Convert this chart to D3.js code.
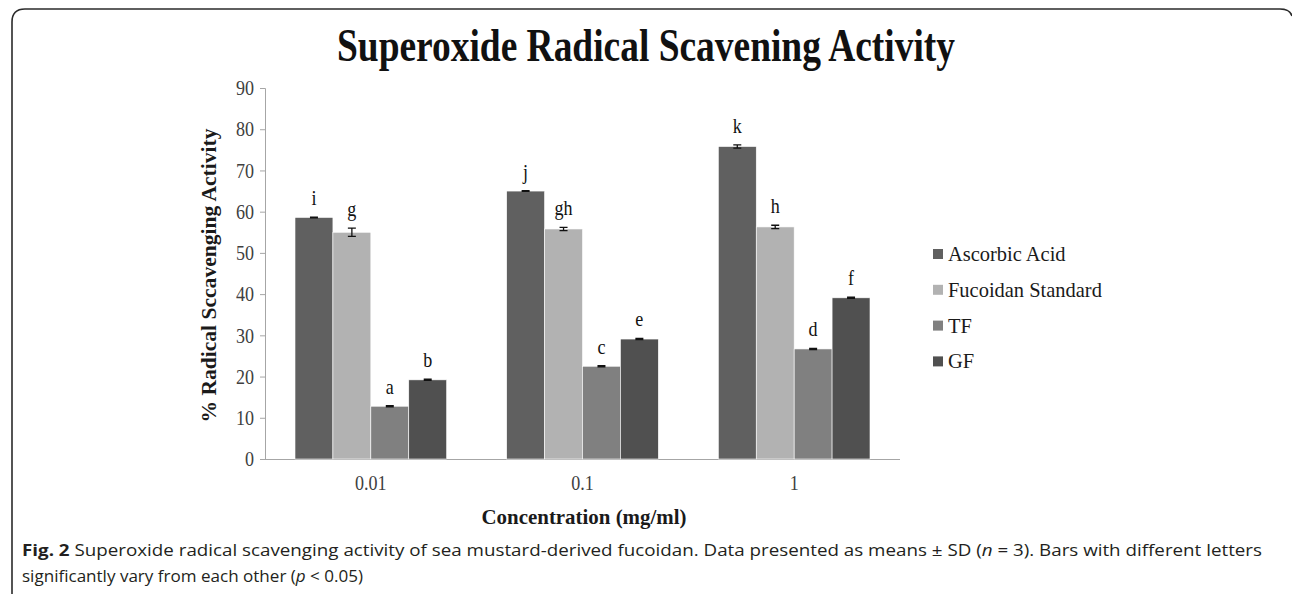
<!DOCTYPE html>
<html>
<head>
<meta charset="utf-8">
<script src="https://cdn.jsdelivr.net/npm/d3@7"></script>
<style>
  body { margin: 0; background: #fff; }
  svg { display: block; }
</style>
</head>
<body>
<div id="chart"></div>
<script>
// data
const concentrations = ["0.01", "0.1", "1"];
const seriesNames = ["Ascorbic Acid", "Fucoidan Standard", "TF", "GF"];
const seriesColors = ["#606060", "#b2b2b2", "#808080", "#505050"];
const ascorbicAcid = [58.6, 65.0, 75.8];
const fucoidanStd = [55.0, 55.8, 56.3];
const tf = [12.8, 22.5, 26.7];
const gf = [19.2, 29.1, 39.1];
const ascorbicSD = [0.1, 0.1, 0.4];
const fucoidanSD = [1.0, 0.4, 0.4];
const tfSD = [0.15, 0.15, 0.15];
const gfSD = [0.15, 0.15, 0.15];
const letters = [["i", "j", "k"], ["g", "gh", "h"], ["a", "c", "d"], ["b", "e", "f"]];
const yTicks = [0, 10, 20, 30, 40, 50, 60, 70, 80, 90];

const values = [ascorbicAcid, fucoidanStd, tf, gf];
const sds = [ascorbicSD, fucoidanSD, tfSD, gfSD];

const rows = [];
concentrations.forEach((c, ci) => {
  seriesNames.forEach((s, si) => {
    rows.push({ conc: c, series: s, value: values[si][ci], sd: sds[si][ci], letter: letters[si][ci], color: seriesColors[si] });
  });
});

// the original figure is squeezed sideways, so text is narrowed a bit
function squeeze(sel, k) {
  sel.each(function() {
    const t = d3.select(this);
    const x = +t.attr('x') || 0;
    t.attr('x', x / k).attr('transform', `scale(${k},1)`);
  });
}

const W = 1292, H = 594;
const svg = d3.select('#chart').append('svg')
    .attr('width', W)
    .attr('height', H);

// frame (open at the bottom)
svg.append('path')
    .attr('d', `M12,${H + 5} L12,22 Q12,9 25,9 L1280,9 Q1290,9 1292,16`)
    .attr('fill', 'none')
    .attr('stroke', '#2b2b2b')
    .attr('stroke-width', 1.6);

const serif = '"Liberation Serif", "Times New Roman", serif';

svg.append('text')
    .attr('x', 646)
    .attr('y', 61)
    .attr('text-anchor', 'middle')
    .attr('font-family', serif)
    .attr('font-weight', 'bold')
    .attr('font-size', 47)
    .attr('textLength', 618)
    .attr('lengthAdjust', 'spacingAndGlyphs')
    .attr('fill', '#111')
    .text('Superoxide Radical Scavening Activity');

const plotLeft = 265, plotRight = 900, plotTop = 88, plotBottom = 459;

const x0 = d3.scaleBand()
    .domain(concentrations)
    .range([plotLeft, plotRight])
    .padding(0);

const gap = 30;
const x1 = d3.scaleBand()
    .domain(seriesNames)
    .range([gap, x0.bandwidth() - gap])
    .padding(0);

const y = d3.scaleLinear()
    .domain([0, 90])
    .range([plotBottom, plotTop]);

// y axis
const yAxis = svg.append('g')
    .attr('transform', `translate(${plotLeft},0)`)
    .call(d3.axisLeft(y).tickValues(yTicks).tickSize(5).tickPadding(6));
yAxis.selectAll('path, line').attr('stroke', '#a6a6a6');
yAxis.selectAll('text')
    .attr('font-family', serif)
    .attr('font-size', 21)
    .attr('fill', '#404040')
    .call(squeeze, 0.86);

// x axis
const xAxis = svg.append('g')
    .attr('transform', `translate(0,${plotBottom})`)
    .call(d3.axisBottom(x0).tickSize(0).tickPadding(16));
xAxis.select('path').attr('stroke', '#a6a6a6').attr('d', `M${plotLeft},0.5H${plotRight}`);
xAxis.selectAll('text')
    .attr('font-family', serif)
    .attr('font-size', 21)
    .attr('fill', '#404040')
    .call(squeeze, 0.86);

// bars
const bars = svg.append('g').selectAll('g')
    .data(rows)
    .join('g')
    .attr('transform', d => `translate(${x0(d.conc) + x1(d.series)},0)`);

bars.append('rect')
    .attr('x', 0)
    .attr('y', d => y(d.value))
    .attr('width', x1.bandwidth())
    .attr('height', d => plotBottom - y(d.value))
    .attr('fill', d => d.color)
    .attr('stroke', '#fff')
    .attr('stroke-width', 0.6);

// error bars
const bw = x1.bandwidth();
bars.append('path')
    .attr('d', d => {
      const cx = bw / 2, y1 = y(d.value + d.sd), y2 = y(d.value - d.sd);
      return `M${cx - 4},${y1}H${cx + 4}M${cx},${y1}V${y2}M${cx - 4},${y2}H${cx + 4}`;
    })
    .attr('fill', 'none')
    .attr('stroke', '#111')
    .attr('stroke-width', 1.3);

// significance letters
bars.append('text')
    .attr('x', bw / 2)
    .attr('y', d => y(d.value + d.sd) - 12)
    .attr('text-anchor', 'middle')
    .attr('font-family', serif)
    .attr('font-size', 21)
    .attr('fill', '#111')
    .text(d => d.letter)
    .call(squeeze, 0.86);

// axis titles
svg.append('text')
    .attr('transform', `translate(216,${(plotTop + plotBottom) / 2 + 2}) rotate(-90)`)
    .attr('text-anchor', 'middle')
    .attr('font-family', serif)
    .attr('font-weight', 'bold')
    .attr('font-size', 22)
    .attr('textLength', 294)
    .attr('lengthAdjust', 'spacingAndGlyphs')
    .attr('fill', '#1a1a1a')
    .text('% Radical Sccavenging Activity');

svg.append('text')
    .attr('x', 584)
    .attr('y', 524)
    .attr('text-anchor', 'middle')
    .attr('font-family', serif)
    .attr('font-weight', 'bold')
    .attr('font-size', 22)
    .attr('textLength', 205)
    .attr('lengthAdjust', 'spacingAndGlyphs')
    .attr('fill', '#1a1a1a')
    .text('Concentration (mg/ml)');

// legend
const legend = svg.append('g')
    .attr('transform', 'translate(933,249)')
    .selectAll('g')
    .data(seriesNames)
    .join('g')
    .attr('transform', (d, i) => `translate(0,${i * 35.8})`);

legend.append('rect')
    .attr('width', 10)
    .attr('height', 10)
    .attr('fill', (d, i) => seriesColors[i]);

legend.append('text')
    .attr('x', 15)
    .attr('y', 12)
    .attr('font-family', serif)
    .attr('font-size', 22)
    .attr('fill', '#1a1a1a')
    .text(d => d)
    .call(squeeze, 0.93);

// caption
const sans = '"Open Sans", "Noto Sans", sans-serif';
const cap1 = svg.append('text')
    .attr('x', 22)
    .attr('y', 556)
    .attr('font-family', sans)
    .attr('font-size', 16.5)
    .attr('fill', '#231f20')
    .attr('textLength', 1240)
    .attr('lengthAdjust', 'spacingAndGlyphs');
cap1.append('tspan').attr('font-weight', 'bold').text('Fig. 2');
cap1.append('tspan').text(' Superoxide radical scavenging activity of sea mustard-derived fucoidan. Data presented as means ± SD (');
cap1.append('tspan').attr('font-style', 'italic').text('n');
cap1.append('tspan').text(' = 3). Bars with different letters');

const cap2 = svg.append('text')
    .attr('x', 22)
    .attr('y', 582)
    .attr('font-family', sans)
    .attr('font-size', 16.5)
    .attr('fill', '#231f20')
    .attr('textLength', 341)
    .attr('lengthAdjust', 'spacingAndGlyphs');
cap2.append('tspan').text('significantly vary from each other (');
cap2.append('tspan').attr('font-style', 'italic').text('p');
cap2.append('tspan').text(' < 0.05)');
</script>
</body>
</html>
